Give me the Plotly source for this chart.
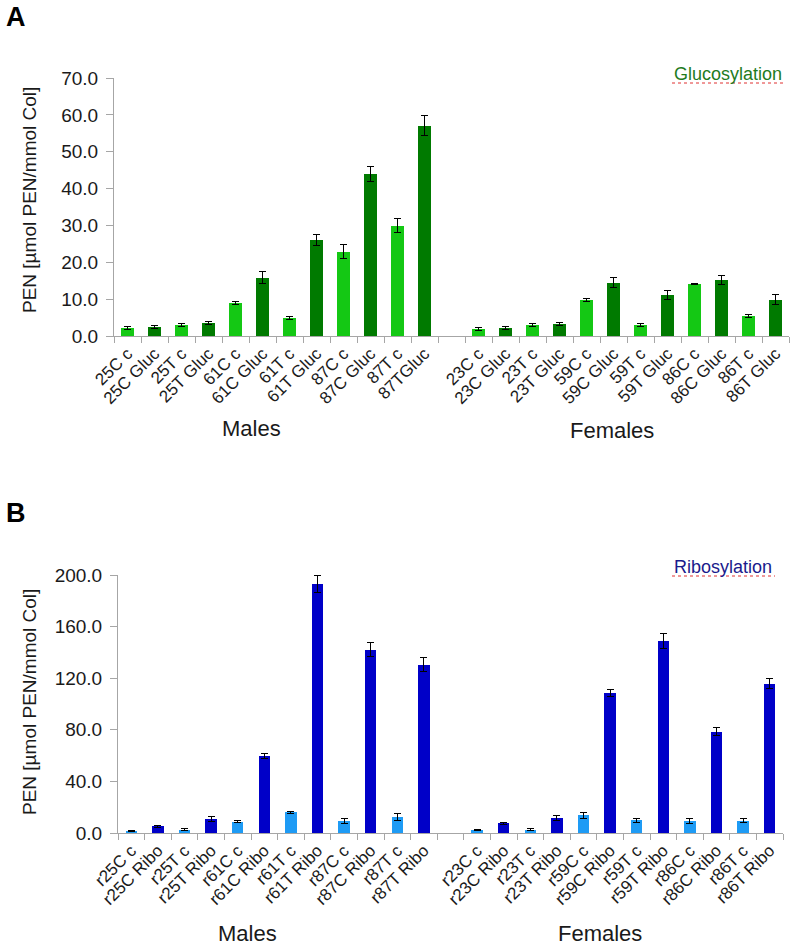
import plotly.graph_objects as go

# ---------------- Data ----------------
gluc_male_labels = ["25C c", "25C Gluc", "25T c", "25T Gluc", "61C c", "61C Gluc",
                    "61T c", "61T Gluc", "87C c", "87C Gluc", "87T c", "87TGluc"]
gluc_male_values = [2.1, 2.4, 3.0, 3.4, 8.9, 15.8, 5.0, 26.1, 22.9, 44.0, 29.9, 57.0]
gluc_male_errors = [0.4, 0.4, 0.4, 0.4, 0.4, 1.6, 0.4, 1.5, 1.9, 2.1, 1.9, 2.7]

gluc_female_labels = ["23C c", "23C Gluc", "23T c", "23T Gluc", "59C c", "59C Gluc",
                      "59T c", "59T Gluc", "86C c", "86C Gluc", "86T c", "86T Gluc"]
gluc_female_values = [2.0, 2.2, 3.1, 3.3, 9.7, 14.4, 3.1, 11.1, 14.1, 15.2, 5.5, 9.9]
gluc_female_errors = [0.4, 0.4, 0.4, 0.4, 0.4, 1.35, 0.4, 1.25, 0.2, 1.2, 0.4, 1.35]

ribo_male_labels = ["r25C c", "r25C Ribo", "r25T c", "r25T Ribo", "r61C c", "r61C Ribo",
                    "r61T c", "r61T Ribo", "r87C c", "r87C Ribo", "r87T c", "r87T Ribo"]
ribo_male_values = [1.5, 5.4, 2.4, 11.1, 8.8, 59.7, 16.0, 193.3, 9.3, 141.9, 12.4, 130.5]
ribo_male_errors = [0.6, 0.8, 0.8, 2.0, 1.0, 1.8, 0.8, 6.5, 2.0, 5.4, 2.5, 5.2]

ribo_female_labels = ["r23C c", "r23C Ribo", "r23T c", "r23T Ribo", "r59C c", "r59C Ribo",
                      "r59T c", "r59T Ribo", "r86C c", "r86C Ribo", "r86T c", "r86T Ribo"]
ribo_female_values = [2.1, 7.5, 2.6, 11.9, 13.7, 108.3, 10.0, 149.1, 9.3, 78.5, 9.6, 115.8]
ribo_female_errors = [0.5, 0.6, 0.8, 2.0, 2.5, 2.8, 1.5, 5.7, 2.0, 3.1, 1.8, 3.6]

gluc_yticks = [0, 10, 20, 30, 40, 50, 60, 70]
ribo_yticks = [0, 40, 80, 120, 160, 200]

# ---------------- Styles ----------------
FONT = "Liberation Sans, Arial, sans-serif"
LIGHT_GREEN = "#14C814"
DARK_GREEN = "#007A00"
LIGHT_BLUE = "#1E9BF5"
DARK_BLUE = "#0000C8"
AXIS_GREY = "#A6A6A6"
W, H = 793, 947


def build(male_labels, male_vals, male_errs, fem_labels, fem_vals, fem_errs, c_light, c_dark):
    labels = male_labels + [""] + fem_labels
    vals = male_vals + [None] + fem_vals
    errs = male_errs + [None] + fem_errs
    xs, ys, es, cols = [], [], [], []
    for i, (lab, v, e) in enumerate(zip(labels, vals, errs)):
        if v is None:
            continue
        xs.append(i)
        ys.append(v)
        es.append(e)
        k = i if i < 12 else i - 13
        cols.append(c_light if k % 2 == 0 else c_dark)
    return xs, ys, es, cols


fig = go.Figure()

panels = [
    (build(gluc_male_labels, gluc_male_values, gluc_male_errors,
           gluc_female_labels, gluc_female_values, gluc_female_errors,
           LIGHT_GREEN, DARK_GREEN), "x", "y", 0.45),
    (build(ribo_male_labels, ribo_male_values, ribo_male_errors,
           ribo_female_labels, ribo_female_values, ribo_female_errors,
           LIGHT_BLUE, DARK_BLUE), "x2", "y2", 0.43),
]

for (xs, ys, es, cols), xa, ya, bw in panels:
    fig.add_trace(go.Bar(
        x=xs, y=ys, width=bw, marker=dict(color=cols, line=dict(width=0)),
        error_y=dict(type="data", array=es, visible=True, color="#000000",
                     thickness=1, width=3.5),
        xaxis=xa, yaxis=ya, showlegend=False, hoverinfo="x+y",
    ))


def px(x):
    return x / W


def py(y):
    return 1 - y / H


tickvals_x = list(range(25))
ticktext_a = gluc_male_labels + [""] + gluc_female_labels
ticktext_b = ribo_male_labels + [""] + ribo_female_labels
bounds = [i - 0.5 for i in range(26)]

common_x = dict(
    range=[-0.5, 24.5], tickmode="array", tickvals=tickvals_x, automargin=False,
    tickangle=-45, ticks="", showline=True, linecolor=AXIS_GREY, linewidth=1,
    showgrid=False, zeroline=False,
    tickfont=dict(family=FONT, size=17, color="#1a1a1a"),
    minor=dict(tickmode="array", tickvals=bounds, ticks="outside", ticklen=6,
               tickcolor=AXIS_GREY, tickwidth=1, showgrid=False),
)
common_y = dict(
    showline=True, linecolor=AXIS_GREY, linewidth=1, ticks="outside", ticklen=7,
    tickcolor=AXIS_GREY, showgrid=False, zeroline=False, tickformat=".1f",
    automargin=False,
    tickfont=dict(family=FONT, size=19, color="#1a1a1a"), ticklabelstandoff=4,
)

fig.update_layout(
    width=W, height=H, margin=dict(l=0, r=0, t=0, b=0, autoexpand=False),
    paper_bgcolor="white", plot_bgcolor="white", bargap=0,
    xaxis=dict(domain=[px(114), px(789)], anchor="y", ticktext=ticktext_a, **common_x),
    yaxis=dict(domain=[py(336), py(78)], anchor="x", range=[0, 70],
               tickvals=gluc_yticks, **common_y),
    xaxis2=dict(domain=[px(118), px(783)], anchor="y2", ticktext=ticktext_b, **common_x),
    yaxis2=dict(domain=[py(833), py(575)], anchor="x2", range=[0, 200],
                tickvals=ribo_yticks, **common_y),
)

ann = []
ann.append(dict(x=px(4), y=py(17), text="<b>A</b>", font=dict(family=FONT, size=27, color="black"),
                xanchor="left", yanchor="middle", showarrow=False, xref="paper", yref="paper"))
ann.append(dict(x=px(4), y=py(513), text="<b>B</b>", font=dict(family=FONT, size=27, color="black"),
                xanchor="left", yanchor="middle", showarrow=False, xref="paper", yref="paper"))
ytitle = "PEN [µmol PEN/mmol Col]"
for yc in (200, 702):
    ann.append(dict(x=px(29), y=py(yc), text=ytitle, textangle=-90,
                    font=dict(family=FONT, size=19, color="#1a1a1a"),
                    xanchor="center", yanchor="middle", showarrow=False,
                    xref="paper", yref="paper"))
for (xc, yc, t) in [(251, 429, "Males"), (612, 430, "Females"),
                    (247, 933, "Males"), (600, 933, "Females")]:
    ann.append(dict(x=px(xc), y=py(yc), text=t, font=dict(family=FONT, size=22, color="#1a1a1a"),
                    xanchor="center", yanchor="middle", showarrow=False,
                    xref="paper", yref="paper"))
ann.append(dict(x=px(672), y=py(74), text="Glucosylation",
                font=dict(family=FONT, size=18, color="#1E7B1E"),
                xanchor="left", yanchor="middle", showarrow=False, xref="paper", yref="paper"))
ann.append(dict(x=px(672), y=py(567), text="Ribosylation",
                font=dict(family=FONT, size=18, color="#1A1A8C"),
                xanchor="left", yanchor="middle", showarrow=False, xref="paper", yref="paper"))
fig.update_layout(annotations=ann)

for (x0, x1, yl) in [(672, 785, 83), (672, 775, 576)]:
    fig.add_shape(type="line", xref="paper", yref="paper", x0=px(x0), x1=px(x1),
                  y0=py(yl), y1=py(yl), line=dict(color="#E03030", width=1, dash="dot"))

fig.write_html("out.html", config={"displayModeBar": False},
               post_script="document.body.style.margin='0px';document.body.style.overflow='hidden';")
